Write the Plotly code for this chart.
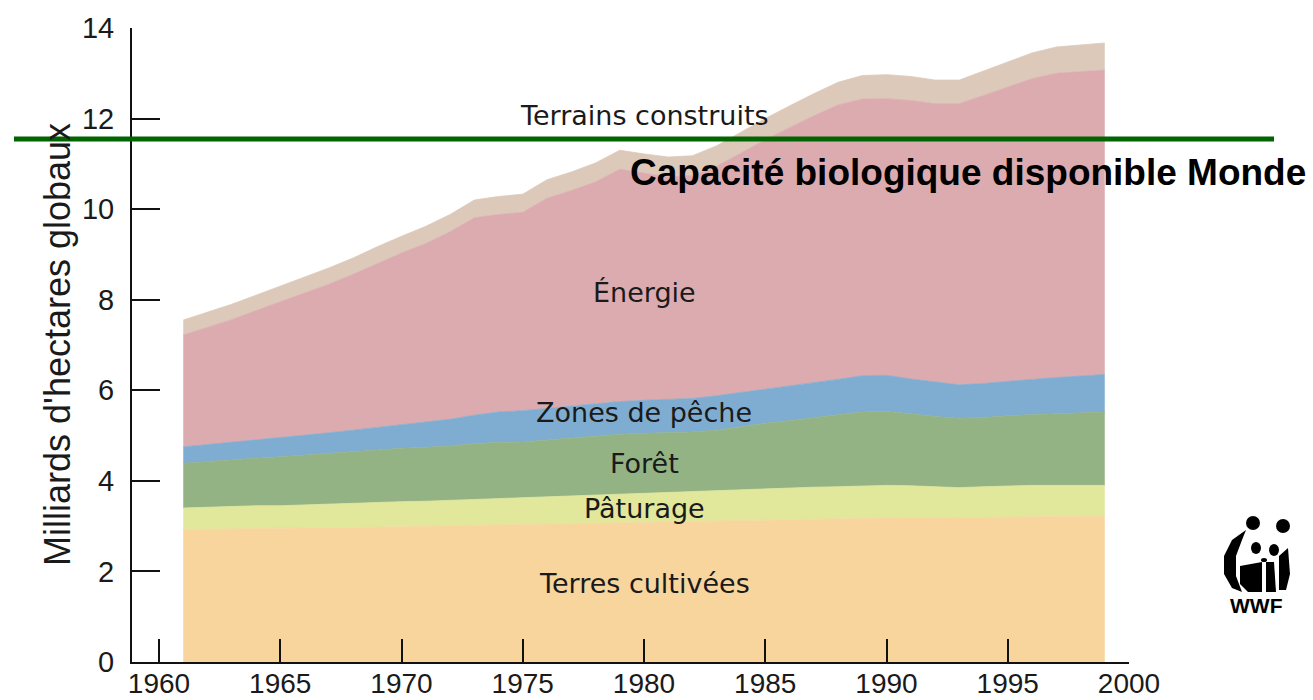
import plotly.graph_objects as go

years = list(range(1961, 2000))

# Layer values (milliards d'hectares globaux), bottom to top
terres_cultivees = [2.92, 2.93, 2.94, 2.95, 2.95, 2.96, 2.97, 2.97, 2.98, 2.99,
                    3.00, 3.01, 3.02, 3.03, 3.04, 3.05, 3.06, 3.07, 3.08, 3.09,
                    3.10, 3.11, 3.12, 3.13, 3.14, 3.15, 3.16, 3.17, 3.18, 3.19,
                    3.19, 3.19, 3.18, 3.19, 3.20, 3.21, 3.21, 3.22, 3.22]
paturage = [0.48, 0.49, 0.49, 0.50, 0.50, 0.51, 0.52, 0.53, 0.54, 0.55,
            0.55, 0.56, 0.57, 0.58, 0.59, 0.60, 0.61, 0.62, 0.63, 0.64,
            0.65, 0.66, 0.67, 0.68, 0.69, 0.69, 0.70, 0.70, 0.71, 0.71,
            0.70, 0.68, 0.67, 0.68, 0.69, 0.69, 0.69, 0.68, 0.68]
foret = [0.99, 1.01, 1.03, 1.05, 1.08, 1.10, 1.11, 1.14, 1.16, 1.18,
         1.19, 1.20, 1.23, 1.24, 1.23, 1.25, 1.27, 1.29, 1.32, 1.32,
         1.31, 1.31, 1.33, 1.39, 1.44, 1.49, 1.54, 1.59, 1.63, 1.63,
         1.59, 1.55, 1.53, 1.53, 1.55, 1.56, 1.58, 1.60, 1.62]
zones_peche = [0.36, 0.37, 0.39, 0.40, 0.42, 0.43, 0.46, 0.48, 0.50, 0.53,
               0.56, 0.59, 0.63, 0.67, 0.69, 0.70, 0.71, 0.72, 0.72, 0.73,
               0.74, 0.74, 0.76, 0.75, 0.75, 0.77, 0.77, 0.78, 0.80, 0.80,
               0.77, 0.76, 0.74, 0.75, 0.76, 0.78, 0.80, 0.82, 0.83]
energie = [2.47, 2.59, 2.71, 2.86, 3.00, 3.15, 3.28, 3.44, 3.62, 3.78,
           3.94, 4.14, 4.36, 4.36, 4.38, 4.64, 4.76, 4.90, 5.13, 5.01,
           4.91, 4.92, 5.07, 5.29, 5.51, 5.70, 5.89, 6.06, 6.11, 6.11,
           6.15, 6.15, 6.21, 6.36, 6.49, 6.64, 6.72, 6.72, 6.72]
terrains_construits = [0.33, 0.33, 0.34, 0.34, 0.35, 0.35, 0.36, 0.36, 0.37, 0.37,
                       0.38, 0.38, 0.39, 0.40, 0.40, 0.41, 0.41, 0.42, 0.42, 0.43,
                       0.44, 0.44, 0.45, 0.46, 0.47, 0.48, 0.49, 0.50, 0.52, 0.53,
                       0.53, 0.52, 0.52, 0.54, 0.56, 0.57, 0.58, 0.59, 0.60]

series_names = ["Terres cultivées", "Pâturage", "Forêt", "Zones de pêche",
                "Énergie", "Terrains construits"]
series_values = [terres_cultivees, paturage, foret, zones_peche, energie,
                 terrains_construits]
series_colors = ["#F9D59E", "#E1E79B", "#93B385", "#7FADD1", "#DCABAF", "#DCC9BA"]

# label positions (year, value)
label_x = [1980, 1980, 1980, 1980, 1980, 1980]
label_y = [1.74, 3.40, 4.39, 5.52, 8.17, 12.06]

capacite = 11.55
capacite_label = "Capacité biologique disponible Monde"

x_ticks = [1960, 1965, 1970, 1975, 1980, 1985, 1990, 1995, 2000]
y_ticks = [0, 2, 4, 6, 8, 10, 12, 14]
y_title = "Milliards d'hectares globaux"

FONT = "Liberation Sans, Arial, Helvetica, sans-serif"
LABEL_FONT = "DejaVu Sans, Liberation Sans, Arial, sans-serif"

fig = go.Figure()
for name, vals, col in zip(series_names, series_values, series_colors):
    fig.add_trace(go.Scatter(
        x=years, y=vals, name=name, stackgroup="one", mode="lines",
        line=dict(color=col, width=0.8), fillcolor=col, hoverinfo="x+y+name"))

# layout geometry (pixels)
L, R, T, B = 132, 184, 28, 38
W, H = 1313, 700
pw, ph = W - L - R, H - T - B


def px(x):
    return (x - L) / pw


def py(y):
    return (H - B - y) / ph


annotations = []
for name, xv, yv in zip(series_names, label_x, label_y):
    annotations.append(dict(x=xv, y=yv, xref="x", yref="y", text=name,
                            showarrow=False, xanchor="center", yanchor="middle",
                            font=dict(family=LABEL_FONT, size=27, color="#1a1a1a")))

annotations.append(dict(x=px(1308), y=10.82, xref="paper", yref="y",
                        text="<b>" + capacite_label + "</b>", showarrow=False,
                        xanchor="right", yanchor="middle",
                        font=dict(family=FONT, size=37, color="#000000")))

annotations.append(dict(x=0, y=0.5, xref="paper", yref="paper", xshift=-75,
                        text=y_title, textangle=-90, showarrow=False,
                        xanchor="center", yanchor="middle",
                        font=dict(family=FONT, size=36, color="#1a1a1a")))

annotations.append(dict(x=px(1256), y=py(605), xref="paper", yref="paper",
                        text="<b>WWF</b>", showarrow=False,
                        xanchor="center", yanchor="middle",
                        font=dict(family=FONT, size=21, color="#000000")))

shapes = [dict(type="line", xref="paper", yref="y", x0=px(14), x1=px(1274),
               y0=capacite, y1=capacite, line=dict(color="#006400", width=5),
               layer="above")]


def circ(cx, cy, rx, ry):
    return dict(type="circle", xref="paper", yref="paper",
                x0=px(cx - rx), x1=px(cx + rx), y0=py(cy + ry), y1=py(cy - ry),
                fillcolor="black", line=dict(width=0), layer="above")


def path(pts):
    d = "M " + " L ".join(f"{px(a):.5f},{py(b):.5f}" for a, b in pts) + " Z"
    return dict(type="path", xref="paper", yref="paper", path=d,
                fillcolor="black", line=dict(width=0), layer="above")


# simplified panda logo
shapes += [
    circ(1253, 523, 7, 7), circ(1283, 526, 7, 7),
    circ(1256, 548, 5, 6), circ(1274, 550, 5, 6), circ(1264, 560, 3, 2),
    path([(1246, 530), (1232, 540), (1224, 556), (1224, 574), (1232, 588),
          (1242, 592), (1236, 576), (1236, 556), (1242, 540)]),
    path([(1240, 566), (1262, 562), (1262, 592), (1248, 592), (1240, 584)]),
    path([(1266, 562), (1274, 562), (1276, 592), (1266, 592)]),
    path([(1279, 556), (1288, 548), (1290, 574), (1286, 590), (1279, 590)]),
]

fig.update_layout(
    width=W, height=H, autosize=False,
    margin=dict(l=L, r=R, t=T, b=B, pad=0, autoexpand=False),
    paper_bgcolor="white", plot_bgcolor="white",
    showlegend=False,
    annotations=annotations, shapes=shapes,
    xaxis=dict(range=[1960 - (159 - L) / 24.25, 2000], tickvals=x_ticks,
               automargin=False,
               ticks="inside", ticklen=23, tickwidth=2, tickcolor="#111",
               showline=True, linecolor="#111", linewidth=2,
               showgrid=False, zeroline=False, ticklabelstandoff=-5,
               tickfont=dict(family=FONT, size=28, color="#1a1a1a")),
    yaxis=dict(range=[0, 14], tickvals=y_ticks, automargin=False,
               ticks="inside", ticklen=28, tickwidth=2, tickcolor="#111",
               showline=True, linecolor="#111", linewidth=2,
               showgrid=False, zeroline=False, ticklabelstandoff=10,
               tickfont=dict(family=FONT, size=29, color="#1a1a1a")),
)

fig.write_html("out.html", config={"displayModeBar": False},
               post_script="document.body.style.margin='0';")
